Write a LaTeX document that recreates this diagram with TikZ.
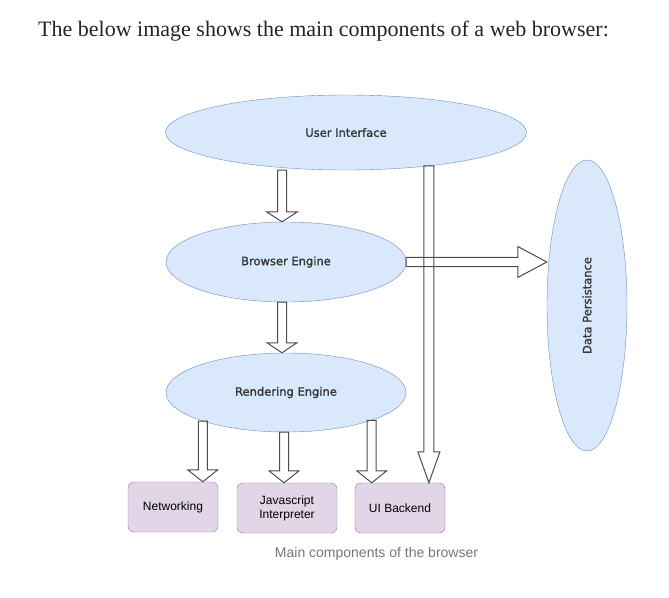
\documentclass[tikz,border=0pt]{standalone}
\usepackage{fontspec}
\setmainfont{Liberation Serif}
\newfontfamily\boxfont{Liberation Sans}
\newfontfamily\labelfont[FakeBold=1.6]{DejaVu Sans}
\usetikzlibrary{shapes.geometric,calc}

\definecolor{ellfill}{HTML}{DAE8FC}
\definecolor{elldraw}{HTML}{6C8EBF}
\definecolor{boxfill}{HTML}{E1D5E7}
\definecolor{boxdraw}{HTML}{9673A6}
\definecolor{captiongray}{HTML}{757575}
\definecolor{headtext}{HTML}{242424}

\tikzset{
  part/.style={ellipse,draw=elldraw,fill=ellfill,inner sep=0pt,
    font=\labelfont\fontsize{11.5}{13}\selectfont,text=black!78},
  module/.style={rectangle,rounded corners=6pt,draw=boxdraw,fill=boxfill,
    inner sep=0pt,minimum width=90pt,minimum height=50pt,align=center,
    font=\boxfont\fontsize{12}{14}\selectfont},
  blockarrow/.style={draw=black!70,line width=1pt,line join=miter},
  downarrow/.style n args={3}{blockarrow,to path={
    let \p1=(\tikztostart), \p2=(\tikztotarget) in
      (\x1-#1,\y1) -- (\x1-#1,\y2+#3) -- (\x1-#2,\y2+#3) -- (\x1,\y2)
      -- (\x1+#2,\y2+#3) -- (\x1+#1,\y2+#3) -- (\x1+#1,\y1) -- cycle}},
  rightarrow/.style n args={3}{blockarrow,to path={
    let \p1=(\tikztostart), \p2=(\tikztotarget) in
      (\x1,\y1-#1) -- (\x2-#3,\y1-#1) -- (\x2-#3,\y1-#2) -- (\x2,\y1)
      -- (\x2-#3,\y1+#2) -- (\x2-#3,\y1+#1) -- (\x1,\y1+#1) -- cycle}}
}

\begin{document}
\begin{tikzpicture}[x=1pt,y=-1pt]
\useasboundingbox (0,0) rectangle (669,597);

% heading line
\node[anchor=base west,inner sep=0pt,text=headtext,
  font=\fontsize{22}{26}\selectfont] (head) at (38,36)
  {The below image shows the main components of a web browser:};

\begin{scope} % browser layers
  \node[part,minimum width=361pt,minimum height=75pt] (ui) at (346,132.5)
    {User Interface};
  \node[part,minimum width=240pt,minimum height=80pt] (be) at (286,262)
    {Browser Engine};
  \node[part,minimum width=240pt,minimum height=79pt] (re) at (286,392.5)
    {Rendering Engine};
  \node[part,minimum width=80pt,minimum height=291pt] (dp) at (587,305.5)
    {\rotatebox{90}{Data Persistance}};
\end{scope}

\begin{scope} % bottom modules
  \node[module] (net) at (173,507) {Networking};
  \node[module,minimum width=100pt] (js) at (287,508)
    {Javascript\\Interpreter};
  \node[module] (uib) at (400,508) {UI Backend};
\end{scope}

\begin{scope} % hollow arrows
  \draw[downarrow={4.5pt}{15.5pt}{10pt}] ([xshift=-4]be.north |- ui.south)
    to ([xshift=-4]be.north);
  \draw[downarrow={4.5pt}{15pt}{10pt}] ([xshift=-4]be.south)
    to ([xshift=-4]re.north);
  \draw[downarrow={5pt}{11pt}{31pt}] (ui.-22) to (ui.-22 |- uib.north);
  \draw[rightarrow={4.7pt}{15.5pt}{29pt}] (be.east) to (dp.west |- be.east);
  \draw[downarrow={4.5pt}{15pt}{12pt}] (re.199) to (re.199 |- net.north);
  \draw[downarrow={4.5pt}{15pt}{12pt}] ([xshift=-2]re.south)
    to ([xshift=-2]re.south |- js.north);
  \draw[downarrow={4.5pt}{15pt}{12pt}] (re.-18) to (re.-18 |- uib.north);
\end{scope}

% caption below the diagram
\node[text=captiongray,font=\boxfont\fontsize{14}{16}\selectfont]
  (cap) at (376.5,554) {Main components of the browser};

\end{tikzpicture}
\end{document}
